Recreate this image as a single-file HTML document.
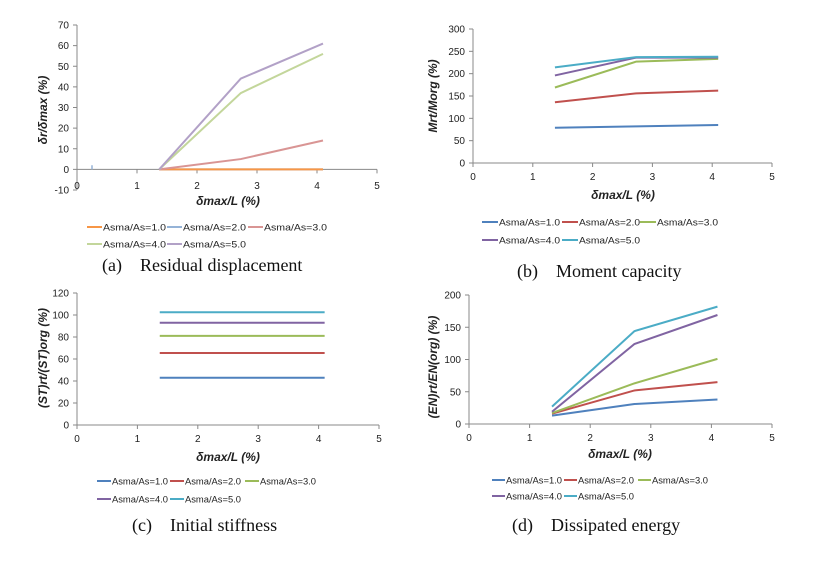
<!DOCTYPE html>
<html><head><meta charset="utf-8">
<style>
body{margin:0;background:#fff;width:829px;height:569px;overflow:hidden;}
svg text{font-family:"Liberation Sans",sans-serif;fill:#222;}
.cap{font-family:"Liberation Serif",serif;font-size:18px;fill:#111;}
</style></head>
<body>
<svg id="fig" width="829" height="569"></svg>
<script>
const xVals=[1.37,2.73,4.1];
const legendLabels=["Asma/As=1.0","Asma/As=2.0","Asma/As=3.0","Asma/As=4.0","Asma/As=5.0"];
const xTicks=[0,1,2,3,4,5];
// (a) residual displacement
const aTicks=[-10,0,10,20,30,40,50,60,70];
const aS1=[0,0,0],aS2=[0,0,0],aS3=[0,5,14],aS4=[0,37,56],aS5=[0,44,61];
// (b) moment capacity
const bTicks=[0,50,100,150,200,250,300];
const bS1=[79,82,85],bS2=[136,156,162],bS3=[169,227,233],bS4=[196,236,236],bS5=[214,237,238];
// (c) initial stiffness
const cTicks=[0,20,40,60,80,100,120];
const cS1=[43,43,43],cS2=[65.5,65.5,65.5],cS3=[81,81,81],cS4=[93,93,93],cS5=[102.5,102.5,102.5];
// (d) dissipated energy
const dTicks=[0,50,100,150,200];
const dS1=[13,31,38],dS2=[16,52,65],dS3=[17,63,101],dS4=[19,124,169],dS5=[27,144,182];

const NS="http://www.w3.org/2000/svg";
const svg=document.getElementById('fig');
function mk(tag,attrs,parent){const e=document.createElementNS(NS,tag);for(const k in attrs)e.setAttribute(k,attrs[k]);(parent||svg).appendChild(e);return e;}
const excel=["#4F81BD","#C0504D","#9BBB59","#8064A2","#4BACC6"];
const faded=["#F79646","#95B3D7","#D99594","#C3D69B","#B2A1C7"];

const charts=[
 {id:"a",x0:77,x5:377,yTop:25,yBot:190,ymin:-10,ymax:70,ticks:aTicks,series:[aS2,aS1,aS3,aS4,aS5],order:[1,0,2,3,4],colors:faded,ytitle:"δr/δmax (%)",ytx:43,yty:110,titleY:201,titleX:228,legY:[227,244],legX:[87,167,248],ll:15,tl:63,cap:"(a)    Residual displacement",capX:102,capY:271,xAxisVal:0},
 {id:"b",x0:473,x5:772,yTop:29,yBot:163,ymin:0,ymax:300,ticks:bTicks,series:[bS1,bS2,bS3,bS4,bS5],order:[0,1,2,3,4],colors:excel,ytitle:"Mrt/Morg (%)",ytx:433,yty:96,titleY:195,titleX:623,legY:[222,240],legX:[482,562,640],ll:16,tl:61,cap:"(b)    Moment capacity",capX:517,capY:277,xAxisVal:0},
 {id:"c",x0:77,x5:379,yTop:293,yBot:425,ymin:0,ymax:120,ticks:cTicks,series:[cS1,cS2,cS3,cS4,cS5],order:[0,1,2,3,4],colors:excel,ytitle:"(ST)rt/(ST)org (%)",ytx:43,yty:358,titleY:457,titleX:228,legY:[481,499],legX:[97,170,245],ll:14,tl:56,cap:"(c)    Initial stiffness",capX:132,capY:531,xAxisVal:0},
 {id:"d",x0:469,x5:772,yTop:295,yBot:424,ymin:0,ymax:200,ticks:dTicks,series:[dS1,dS2,dS3,dS4,dS5],order:[0,1,2,3,4],colors:excel,ytitle:"(EN)rt/EN(org) (%)",ytx:433,yty:367,titleY:454,titleX:620,legY:[480,496],legX:[492,564,638],ll:13,tl:56,cap:"(d)    Dissipated energy",capX:512,capY:531,xAxisVal:0}
];

charts.forEach(c=>{
  const g=mk('g',{});
  
  
  const sx=v=>c.x0+(c.x5-c.x0)*v/5;
  const sy=v=>c.yBot-(c.yBot-c.yTop)*(v-c.ymin)/(c.ymax-c.ymin);
  const ax=sy(c.xAxisVal);
  const yl=mk('line',{x1:c.x0,y1:c.yTop,x2:c.x0,y2:c.yBot,stroke:"#888","stroke-width":1},g);
  
  const xl=mk('line',{x1:c.x0,y1:ax,x2:c.x5,y2:ax,stroke:"#888","stroke-width":1},g);
  
  c.ticks.forEach(t=>{
    const y=sy(t);
    mk('line',{x1:c.x0-4,y1:y,x2:c.x0,y2:y,stroke:"#888"},g);
    const tx=mk('text',{x:c.x0-8,y:y+3.5,"font-size":"10","text-anchor":"end"},g);
    tx.textContent=t;
    
  });
  xTicks.forEach(t=>{
    const x=sx(t);
    mk('line',{x1:x,y1:ax,x2:x,y2:ax+4,stroke:"#888"},g);
    const tx=mk('text',{x:x,y:sy(c.ymin)+(c.ymin<0?-1:17),"font-size":"10","text-anchor":"middle"},g);
    tx.textContent=t;
    
  });
  const xt=mk('text',{x:c.titleX,y:c.titleY+4,"font-size":"12","font-weight":"bold","font-style":"italic","text-anchor":"middle"},g);
  xt.textContent="δmax/L (%)";
  
  const yt=mk('text',{x:0,y:0,"font-size":"12","font-weight":"bold","font-style":"italic","text-anchor":"middle",transform:`translate(${c.ytx+4},${c.yty}) rotate(-90)`},g);
  yt.textContent=c.ytitle;
  
  c.order.forEach(i=>{
    const s=c.series[i];
    const pts=s.map((v,j)=>sx(xVals[j])+","+sy(v)).join(" ");
    const pl=mk('polyline',{points:pts,fill:"none",stroke:c.colors[i],"stroke-width":2},g);
    
  });
  if(c.id==="a"){mk('line',{x1:sx(0.25),y1:sy(0),x2:sx(0.25),y2:sy(2),stroke:faded[1],"stroke-width":1.5},g);}
  legendLabels.forEach((lab,i)=>{
    const row=i<3?0:1,col=i<3?i:i-3;
    const x=c.legX[col],y=c.legY[row];
    const lg=mk('g',{},g);
    
    mk('line',{x1:x,y1:y,x2:x+c.ll,y2:y,stroke:c.colors[i],"stroke-width":2},lg);
    const t=mk('text',{x:x+c.ll+1,y:y+3.5,"font-size":"9.5",textLength:String(c.tl),lengthAdjust:"spacingAndGlyphs"},lg);
    t.textContent=lab;
  });
  const cp=mk('text',{x:c.capX,y:c.capY,class:"cap"},g);
  cp.setAttribute('xml:space','preserve');
  cp.style.whiteSpace='pre';
  cp.textContent=c.cap;
  
});
</script>
</body></html>
